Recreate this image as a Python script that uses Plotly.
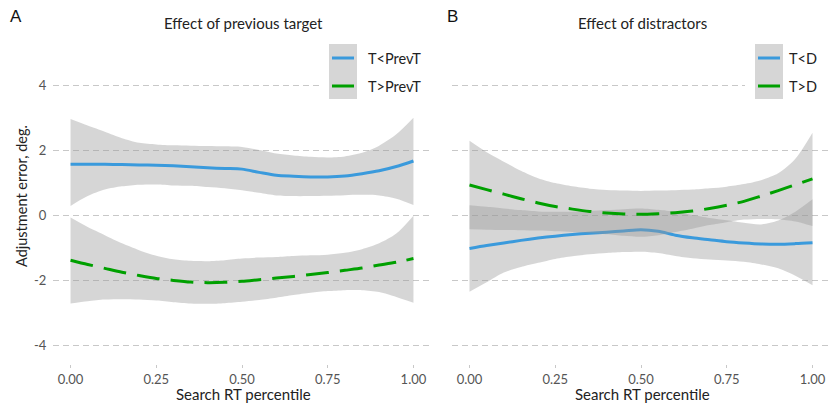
import plotly.graph_objects as go

# ---------------- data ----------------
t = [0.00, 0.05, 0.10, 0.15, 0.20, 0.25, 0.30, 0.35, 0.40, 0.45, 0.50,
     0.55, 0.60, 0.65, 0.70, 0.75, 0.80, 0.85, 0.90, 0.95, 1.00]

# Panel A: Effect of previous target
a_lt_mean = [1.58, 1.58, 1.58, 1.57, 1.56, 1.55, 1.53, 1.50, 1.47, 1.45, 1.43,
             1.33, 1.24, 1.21, 1.19, 1.19, 1.22, 1.29, 1.38, 1.51, 1.68]
a_lt_hi = [2.97, 2.77, 2.58, 2.38, 2.24, 2.19, 2.16, 2.15, 2.14, 2.13, 2.11,
           2.02, 1.91, 1.85, 1.81, 1.79, 1.82, 1.93, 2.15, 2.50, 3.01]
a_lt_lo = [0.30, 0.60, 0.80, 0.90, 0.95, 0.96, 0.93, 0.92, 0.88, 0.84, 0.78,
           0.70, 0.62, 0.60, 0.60, 0.61, 0.63, 0.64, 0.62, 0.52, 0.33]

a_gt_mean = [-1.37, -1.50, -1.62, -1.74, -1.84, -1.93, -1.99, -2.04, -2.06, -2.05, -2.02,
             -1.97, -1.92, -1.87, -1.81, -1.75, -1.68, -1.61, -1.52, -1.43, -1.32]
a_gt_hi = [-0.06, -0.35, -0.60, -0.85, -1.06, -1.23, -1.34, -1.39, -1.40, -1.37, -1.32,
           -1.29, -1.27, -1.24, -1.22, -1.20, -1.14, -1.03, -0.85, -0.55, 0.00]
a_gt_lo = [-2.70, -2.63, -2.58, -2.57, -2.58, -2.61, -2.66, -2.70, -2.71, -2.69, -2.65,
           -2.59, -2.52, -2.44, -2.37, -2.32, -2.29, -2.29, -2.35, -2.50, -2.68]

# Panel B: Effect of distractors
b_lt_mean = [-1.01, -0.92, -0.84, -0.76, -0.69, -0.63, -0.58, -0.54, -0.51, -0.47, -0.43,
             -0.48, -0.60, -0.68, -0.74, -0.80, -0.84, -0.87, -0.88, -0.86, -0.83]
b_lt_hi = [0.32, 0.27, 0.22, 0.17, 0.13, 0.12, 0.12, 0.14, 0.17, 0.20, 0.22,
           0.18, 0.12, 0.02, -0.07, -0.14, -0.22, -0.27, -0.15, 0.12, 0.50]
b_lt_lo = [-2.34, -2.05, -1.75, -1.58, -1.45, -1.33, -1.25, -1.19, -1.15, -1.12, -1.11,
           -1.15, -1.24, -1.31, -1.35, -1.38, -1.42, -1.50, -1.62, -1.85, -2.14]

b_gt_mean = [0.94, 0.80, 0.66, 0.52, 0.39, 0.28, 0.20, 0.13, 0.08, 0.05, 0.04,
             0.06, 0.09, 0.14, 0.22, 0.32, 0.44, 0.60, 0.77, 0.95, 1.13]
b_gt_hi = [2.30, 1.95, 1.66, 1.38, 1.15, 1.00, 0.90, 0.83, 0.79, 0.77, 0.76,
           0.77, 0.78, 0.80, 0.84, 0.89, 0.97, 1.09, 1.30, 1.75, 2.55]
b_gt_lo = [-0.42, -0.43, -0.44, -0.45, -0.46, -0.48, -0.50, -0.53, -0.57, -0.62, -0.65,
           -0.60, -0.50, -0.40, -0.29, -0.20, -0.12, -0.10, -0.11, -0.18, -0.32]

x_ticks = [0.0, 0.25, 0.5, 0.75, 1.0]
x_tick_labels = ["0.00", "0.25", "0.50", "0.75", "1.00"]
y_ticks = [-4, -2, 0, 2, 4]
y_tick_labels = ["-4", "-2", "0", "2", "4"]

panel_titles = ["Effect of previous target", "Effect of distractors"]
panel_letters = ["A", "B"]
legend_labels = [["T<PrevT", "T>PrevT"], ["T<D", "T>D"]]

# ---------------- styling ----------------
W, H = 829, 403
FONT = "Lato, Open Sans, sans-serif"
BLUE = "#3A9ADC"
GREEN = "#00A000"
RIBBON = "rgba(153,153,153,0.4)"
RIBBON_KEY = "#D6D6D6"
GRID = "#C8C8C8"


def px_x(x):
    return x / W


def px_y(y):
    return 1 - y / H


fig = go.Figure()

panels = [
    ("x", "y", [(a_lt_mean, a_lt_lo, a_lt_hi, BLUE, "solid"),
                (a_gt_mean, a_gt_lo, a_gt_hi, GREEN, "23px,11px")]),
    ("x2", "y2", [(b_lt_mean, b_lt_lo, b_lt_hi, BLUE, "solid"),
                  (b_gt_mean, b_gt_lo, b_gt_hi, GREEN, "23px,11px")]),
]

for xa, ya, series in panels:
    for mean, lo, hi, color, dash in series:
        fig.add_trace(go.Scatter(
            x=t, y=lo, xaxis=xa, yaxis=ya, mode="lines",
            line=dict(width=0, shape="spline", smoothing=0.8),
            hoverinfo="skip", showlegend=False))
        fig.add_trace(go.Scatter(
            x=t, y=hi, xaxis=xa, yaxis=ya, mode="lines",
            fill="tonexty", fillcolor=RIBBON,
            line=dict(width=0, shape="spline", smoothing=0.8),
            hoverinfo="skip", showlegend=False))
        fig.add_trace(go.Scatter(
            x=t, y=mean, xaxis=xa, yaxis=ya, mode="lines",
            line=dict(color=color, width=3, dash=dash, shape="spline", smoothing=0.8),
            showlegend=False))

common_x = dict(
    tickvals=x_ticks, ticktext=x_tick_labels, showgrid=False, zeroline=False,
    showline=False, ticks="outside", ticklen=3, tickcolor=GRID, tickwidth=1,
    tickfont=dict(family=FONT, size=13, color="#555555"),
)
common_y = dict(
    range=[-4.56, 5.5], tickvals=y_ticks, ticktext=y_tick_labels,
    showgrid=True, gridcolor=GRID, gridwidth=1.2, griddash="6px,4px",
    zeroline=False, showline=False, ticks="",
    tickfont=dict(family=FONT, size=13, color="#555555"),
    domain=[1 - 364 / H, 1 - 36.7 / H],
)

fig.update_layout(
    width=W, height=H, autosize=False,
    margin=dict(l=0, r=0, t=0, b=0),
    paper_bgcolor="white", plot_bgcolor="white",
    font=dict(family=FONT, color="#222222"),
    showlegend=False,
    xaxis=dict(domain=[53.4 / W, 430.6 / W], range=[-0.05, 1.05], anchor="y", **common_x),
    xaxis2=dict(domain=[452.4 / W, 1.0], range=[-0.04985, 1.0481], anchor="y2", **common_x),
    yaxis=dict(anchor="x", ticklabelstandoff=6, **common_y),
    yaxis2=dict(anchor="x2", showticklabels=False, **common_y),
)

shapes = []
annotations = []

# titles, letters, axis titles
panel_centers = [242.0, 641.0]
letter_x = [8, 445]
for i in range(2):
    annotations.append(dict(text=panel_titles[i], x=px_x(panel_centers[i] + 1.5), y=px_y(22.5),
                            xref="paper", yref="paper", showarrow=False,
                            xanchor="center", yanchor="middle",
                            font=dict(family=FONT, size=15, color="#222222")))
    annotations.append(dict(text=panel_letters[i], x=px_x(letter_x[i]), y=px_y(16),
                            xref="paper", yref="paper", showarrow=False,
                            xanchor="left", yanchor="middle",
                            font=dict(family="Liberation Sans, Arial, sans-serif", size=17,
                                      color="#111111")))
    annotations.append(dict(text="Search RT percentile", x=px_x(panel_centers[i] + 1.5), y=px_y(394),
                            xref="paper", yref="paper", showarrow=False,
                            xanchor="center", yanchor="middle",
                            font=dict(family=FONT, size=15, color="#222222")))

annotations.append(dict(text="Adjustment error, deg.", x=px_x(22), y=px_y(196),
                        xref="paper", yref="paper", showarrow=False, textangle=-90,
                        xanchor="center", yanchor="middle",
                        font=dict(family=FONT, size=14.5, color="#222222")))

# legends (drawn inside each panel, top right)
legend_geo = [
    dict(bg=(319, 431), key=(329, 357), line=(332, 354), text=366),
    dict(bg=(745, 829), key=(755, 783), line=(758, 780), text=787),
]
for i, g in enumerate(legend_geo):
    shapes.append(dict(type="rect", xref="paper", yref="paper", layer="above",
                       x0=px_x(g["bg"][0]), x1=px_x(g["bg"][1]), y0=px_y(106), y1=px_y(38),
                       fillcolor="white", line=dict(width=0)))
    shapes.append(dict(type="rect", xref="paper", yref="paper", layer="above",
                       x0=px_x(g["key"][0]), x1=px_x(g["key"][1]), y0=px_y(99), y1=px_y(44),
                       fillcolor=RIBBON_KEY, line=dict(width=0)))
    for yy, col, lab in [(58, BLUE, legend_labels[i][0]), (86, GREEN, legend_labels[i][1])]:
        shapes.append(dict(type="line", xref="paper", yref="paper", layer="above",
                           x0=px_x(g["line"][0]), x1=px_x(g["line"][1]), y0=px_y(yy), y1=px_y(yy),
                           line=dict(color=col, width=3)))
        annotations.append(dict(text=lab, x=px_x(g["text"]), y=px_y(yy),
                                xref="paper", yref="paper", showarrow=False,
                                xanchor="left", yanchor="middle",
                                font=dict(family=FONT, size=14.5, color="#222222")))

fig.update_layout(shapes=shapes, annotations=annotations)
fig.write_html(
    "out.html",
    config={"displayModeBar": False},
    post_script="document.body.style.margin='0px';document.body.style.overflow='hidden';",
)
